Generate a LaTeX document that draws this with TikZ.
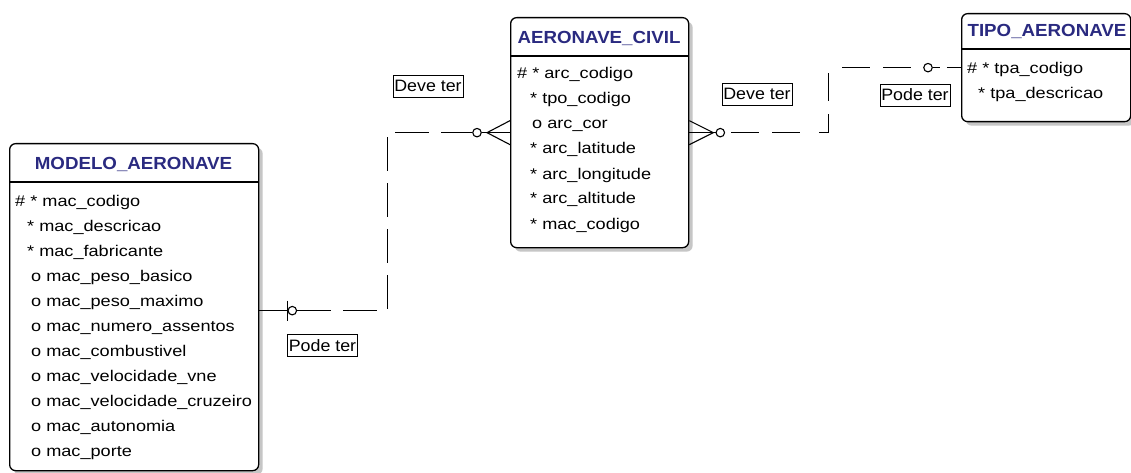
\documentclass[tikz,border=0pt]{standalone}
\usepackage{fontspec}
\usetikzlibrary{shadows}
\newfontfamily\erfont[FakeStretch=1.17]{Liberation Sans}
\newfontfamily\erlabelfont[FakeStretch=1.08]{Liberation Sans}
\newfontfamily\ertitlefont[FakeStretch=1.07]{Liberation Sans}
\definecolor{ertitle}{RGB}{42,42,128}

\begin{document}
\begin{tikzpicture}[x=1pt,y=-1pt,
    entity/.style={draw, line width=1.3pt, rounded corners=6pt, fill=white, inner sep=0pt, anchor=north west,
        drop shadow={shadow xshift=4pt, shadow yshift=-4pt, fill=gray!45, opacity=1}},
    etitle/.style={anchor=base, text=ertitle, font=\ertitlefont\bfseries\fontsize{17.5}{20}\selectfont},
    attr/.style={anchor=base west, inner sep=0pt, font=\erfont\fontsize{15.5}{18}\selectfont},
    rel/.style={line width=1.1pt, dash pattern=on 34pt off 12pt},
    stub/.style={line width=1.1pt},
    opt/.style={circle, draw, line width=1.1pt, fill=white, minimum size=8.5pt, inner sep=0pt},
    rlabel/.style={draw, line width=0.8pt, inner xsep=0.5pt, inner ysep=0pt, minimum width=70pt, minimum height=22pt,
        font=\erlabelfont\fontsize{16.5}{19}\selectfont}]
        \path[use as bounding box, fill=white] (0,0) rectangle (1131,473);
        % entities
        \node[entity, minimum width=249pt, minimum height=327pt] (modelo) at (9,143) {};
        \node[entity, minimum width=178pt, minimum height=230pt] (civil) at (510,17) {};
        \node[entity, minimum width=169pt, minimum height=108pt] (tipo) at (961,13) {};
        \draw[line width=1.1pt] (modelo.north west) ++(0,39) -- ++(249,0);
        \draw[line width=1.1pt] (civil.north west) ++(0,39) -- ++(178,0);
        \draw[line width=1.1pt] (tipo.north west) ++(0,36) -- ++(169,0);
        \node[etitle] (modelo-title) at (133.5,170) {MODELO\_AERONAVE};
        \node[etitle] (civil-title) at (599,44) {AERONAVE\_CIVIL};
        \node[etitle] (tipo-title) at (1047,37) {TIPO\_AERONAVE};
        % attributes
        \foreach \x/\t [count=\i from 0] in {15/{\# * mac\_codigo}, 27/{* mac\_descricao}, 27/{* mac\_fabricante},
            31/{o mac\_peso\_basico}, 31/{o mac\_peso\_maximo}, 31/{o mac\_numero\_assentos}, 31/{o mac\_combustivel},
            31/{o mac\_velocidade\_vne}, 31/{o mac\_velocidade\_cruzeiro}, 31/{o mac\_autonomia}, 31/{o mac\_porte}}
            \node[attr] (mac-\i) at (\x,206+25*\i) {\t};
        \foreach \x/\t [count=\i from 0] in {517/{\# * arc\_codigo}, 530/{* tpo\_codigo}, 532/{o arc\_cor},
            530/{* arc\_latitude}, 530/{* arc\_longitude}, 530/{* arc\_altitude}, 530/{* mac\_codigo}}
            \node[attr] (arc-\i) at (\x,79+25*\i) {\t};
        \foreach \x/\t [count=\i from 0] in {967/{\# * tpa\_codigo}, 978/{* tpa\_descricao}}
            \node[attr] (tpa-\i) at (\x,74+25*\i) {\t};
        % modelo -- civil
        \coordinate (m-end) at ([yshift=-3.5pt]modelo.east);
        \draw[stub] (m-end) -- ++(29,0);
        \draw[stub] ([xshift=28pt]m-end) ++(0,-10) -- ++(0,20);
        \node[opt] (m-opt) at ([xshift=33pt]m-end) {};
        \node[opt] (c-opt) at ([xshift=-33pt]civil.west) {};
        \draw[rel] (m-opt.east) -- ++(90,0) |- (c-opt.west);
        \draw[stub] (c-opt.east) -- (civil.west);
        \draw[stub] ([yshift=12pt]civil.west) -- ([xshift=-23pt]civil.west) -- ([yshift=-12pt]civil.west);
        % civil -- tipo
        \node[opt] (c2-opt) at ([xshift=31pt]civil.east) {};
        \node[opt] (t-opt) at ([xshift=-33pt]tipo.west) {};
        \draw[stub] (civil.east) -- (c2-opt.west);
        \draw[stub] ([yshift=12pt]civil.east) -- ([xshift=24pt]civil.east) -- ([yshift=-12pt]civil.east);
        \draw[rel, dash pattern=on 0pt off 6pt on 28pt off 13pt on 28pt off 13pt] (c2-opt.east) -- ++(103,0) |- (t-opt.west);
        \draw[rel, dash pattern=on 7pt off 7pt on 20pt] (t-opt.east) -- (tipo.west);
        % labels
        \node[rlabel] (mc-label) at (322.5,345.5) {Pode ter};
        \node[rlabel] (cm-label) at (428,86) {Deve ter};
        \node[rlabel] (ct-label) at (757,94) {Deve ter};
        \node[rlabel] (tc-label) at (915,95) {Pode ter};
    \end{tikzpicture}
\end{document}
